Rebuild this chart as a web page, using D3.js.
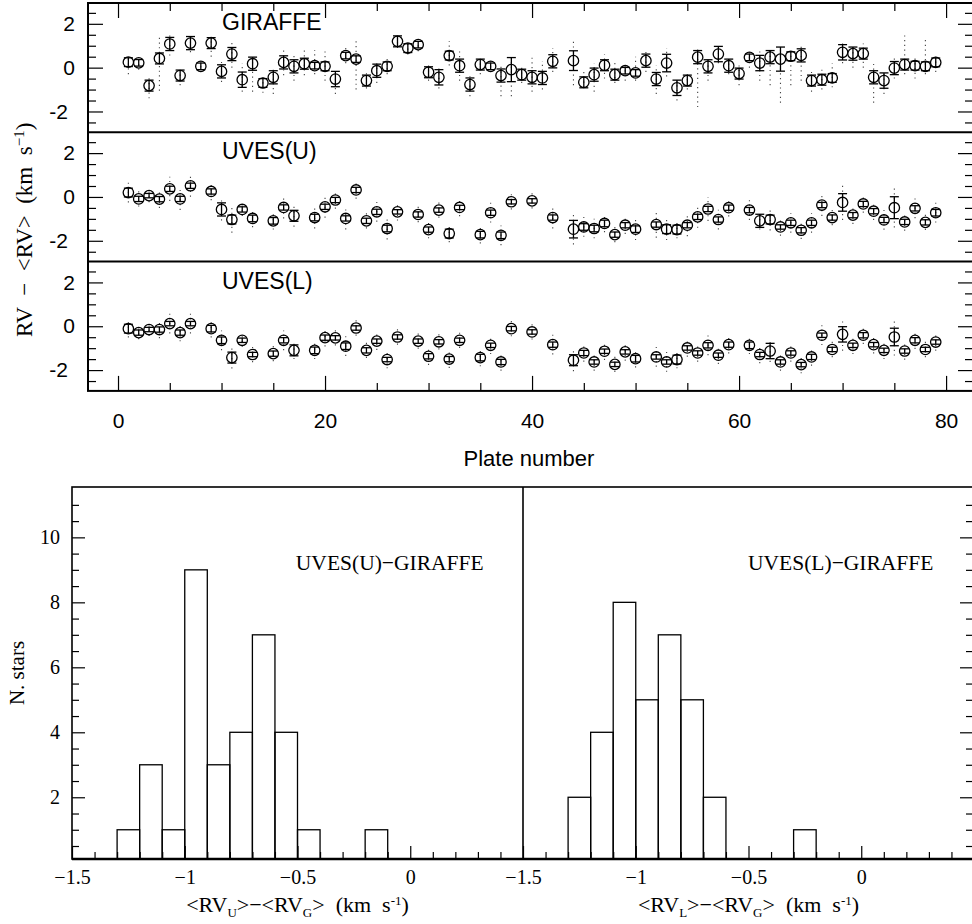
<!DOCTYPE html>
<html>
<head>
<meta charset="utf-8">
<script src="https://cdn.jsdelivr.net/npm/d3@7"></script>
<style>
body { margin: 0; background: #fff; }
svg { display: block; }
.sans { font-family: "Liberation Sans", Arial, sans-serif; }
.serif { font-family: "Liberation Serif", "Times New Roman", serif; }
.axis .domain { display: none; }
.axis line { stroke: #000; stroke-width: 1.2; }
</style>
</head>
<body>
<svg id="chart" width="972" height="924"></svg>
<script>
// Top: RV offsets per plate for GIRAFFE, UVES upper and UVES lower arm
const girPlate = [1,2,3,4,5,6,7,8,9,10,11,12,13,14,15,16,17,18,19,20,21,22,23,24,25,26,27,28,29,30,31,32,33,34,35,36,37,38,39,40,41,42,44,45,46,47,48,49,50,51,52,53,54,55,56,57,58,59,60,61,62,63,64,65,66,67,68,69,70,71,72,73,74,75,76,77,78,79];
const girRV = [0.25,0.22,-0.82,0.42,1.08,-0.36,1.12,0.06,1.12,-0.17,
  0.62,-0.55,0.18,-0.70,-0.44,0.24,0.06,0.18,0.09,0.06,
  -0.52,0.55,0.39,-0.59,-0.14,0.06,1.20,0.89,1.05,-0.21,
  -0.44,0.55,0.09,-0.77,0.14,0.06,-0.36,-0.09,-0.32,-0.44,
  -0.47,0.29,0.32,-0.67,-0.32,0.11,-0.32,-0.14,-0.24,0.32,
  -0.52,0.21,-0.92,-0.59,0.48,0.06,0.62,0.09,-0.27,0.47,
  0.21,0.48,0.39,0.52,0.56,-0.59,-0.55,-0.47,0.70,0.64,
  0.64,-0.44,-0.59,-0.02,0.14,0.09,0.06,0.24];
const girErr = [0.20,0.15,0.25,0.25,0.30,0.25,0.30,0.15,0.25,0.30,
  0.30,0.35,0.30,0.20,0.30,0.30,0.30,0.25,0.15,0.20,
  0.35,0.15,0.15,0.25,0.30,0.20,0.25,0.20,0.15,0.25,
  0.35,0.20,0.30,0.30,0.25,0.15,0.30,0.55,0.25,0.30,
  0.30,0.30,0.45,0.25,0.30,0.25,0.25,0.15,0.15,0.30,
  0.30,0.40,0.35,0.25,0.30,0.30,0.35,0.30,0.25,0.15,
  0.35,0.30,0.55,0.20,0.30,0.25,0.25,0.20,0.35,0.30,
  0.25,0.30,0.35,0.30,0.25,0.20,0.20,0.20];
// range of the single-star values (dotted)
const girLo = [-0.30,-0.10,-1.40,-1.05,0.55,-0.80,0.70,-0.20,0.50,-0.65,
  0.00,-1.10,-1.10,-1.15,-1.20,-0.35,-0.60,-0.35,-0.30,-0.60,
  -1.20,0.20,-1.00,-0.95,-0.70,-0.30,0.90,0.60,0.75,-0.60,
  -0.95,0.10,-0.60,-1.30,-0.30,-0.20,-1.30,-1.30,-0.70,-1.10,
  -1.00,-0.20,-0.80,-0.90,-1.10,-0.50,-0.70,-0.60,-0.60,-0.20,
  -1.20,-0.40,-1.50,-1.00,-1.80,-0.60,0.20,-0.30,-0.80,0.00,
  -0.60,-0.80,-1.60,-0.80,-0.60,-1.10,-1.00,-0.90,0.20,0.00,
  0.00,-1.60,-1.20,-0.50,-0.30,-0.50,-0.30,-0.20];
const girHi = [0.55,0.50,-0.45,1.45,1.60,0.05,1.50,0.30,1.55,0.35,
  1.20,0.20,0.50,-0.40,-0.10,0.85,0.60,0.80,0.80,0.80,
  -0.20,1.00,1.20,-0.20,0.20,0.40,1.55,1.10,1.20,0.20,
  0.00,1.20,0.80,-0.30,0.50,0.30,0.10,0.50,0.10,0.60,
  0.30,0.90,1.30,-0.20,0.20,0.60,0.30,0.20,0.50,0.80,
  0.10,0.90,-0.50,-0.20,0.90,0.30,1.00,0.50,0.10,0.80,
  0.80,0.80,0.90,0.90,1.00,-0.20,-0.10,0.20,1.10,1.00,
  1.10,0.20,-0.20,0.50,1.60,0.50,1.40,0.60];

const uvPlate = [1,2,3,4,5,6,7,9,10,11,12,13,15,16,17,19,20,21,22,23,24,25,26,27,29,30,31,32,33,35,36,37,38,40,42,44,45,46,47,48,49,50,52,53,54,55,56,57,58,59,61,62,63,64,65,66,67,68,69,70,71,72,73,74,75,76,77,78,79];
const uRV = [0.20,-0.09,0.06,-0.10,0.37,-0.09,0.51,
  0.25,-0.57,-1.03,-0.57,-0.98,
  -1.09,-0.48,-0.86,
  -0.94,-0.45,-0.14,-0.98,0.32,-1.09,-0.68,-1.44,-0.68,
  -0.80,-1.49,-0.60,-1.67,-0.48,
  -1.72,-0.72,-1.75,-0.22,
  -0.18,-0.94,
  -1.47,-1.37,-1.44,-1.21,-1.72,-1.29,-1.47,
  -1.26,-1.47,-1.49,-1.29,-0.91,-0.55,-1.03,-0.49,
  -0.60,-1.09,-1.03,-1.37,-1.18,-1.52,-1.18,-0.37,-0.94,-0.25,-0.83,-0.32,-0.65,-1.05,-0.49,-1.14,-0.52,-1.16,-0.72];
const uErr = [0.20,0.12,0.10,0.12,0.12,0.12,0.12,
  0.12,0.30,0.20,0.12,0.15,
  0.15,0.12,0.25,
  0.15,0.12,0.12,0.12,0.12,0.12,0.12,0.15,0.10,
  0.12,0.12,0.10,0.20,0.10,
  0.15,0.12,0.15,0.10,
  0.10,0.12,
  0.40,0.15,0.15,0.15,0.12,0.12,0.15,
  0.12,0.20,0.20,0.12,0.12,0.12,0.12,0.12,
  0.12,0.30,0.20,0.10,0.12,0.12,0.12,0.12,0.12,0.40,0.12,0.12,0.12,0.12,0.50,0.12,0.12,0.12,0.15];
const uScat = [0.45,0.35,0.30,0.40,0.55,0.50,0.50,
  0.40,0.50,0.60,0.30,0.40,
  0.40,0.50,0.50,
  0.50,0.50,0.40,0.50,0.40,0.35,0.45,0.50,0.40,
  0.35,0.40,0.35,0.40,0.40,
  0.40,0.45,0.45,0.35,
  0.35,0.50,
  0.70,0.45,0.45,0.40,0.35,0.40,0.50,
  0.60,0.50,0.40,0.50,0.50,0.55,0.45,0.40,
  0.45,0.40,0.50,0.40,0.45,0.40,0.45,0.50,0.35,0.80,0.40,0.40,0.40,0.45,0.90,0.40,0.45,0.35,0.45];

const lRV = [-0.11,-0.29,-0.15,-0.15,0.12,-0.29,0.12,
  -0.11,-0.64,-1.43,-0.64,-1.29,
  -1.25,-0.64,-1.10,
  -1.10,-0.52,-0.53,-0.91,-0.08,-1.10,-0.68,-1.52,-0.49,
  -0.68,-1.37,-0.71,-1.50,-0.64,
  -1.43,-0.87,-1.63,-0.11,
  -0.26,-0.84,
  -1.55,-1.22,-1.63,-1.14,-1.74,-1.17,-1.48,
  -1.40,-1.63,-1.52,-0.99,-1.22,-0.87,-1.32,-0.84,
  -0.87,-1.29,-1.13,-1.63,-1.22,-1.75,-1.40,-0.41,-1.06,-0.37,-0.87,-0.41,-0.84,-1.10,-0.49,-1.13,-0.64,-1.06,-0.72];
const lErr = [0.20,0.12,0.10,0.12,0.10,0.12,0.10,
  0.15,0.15,0.25,0.10,0.10,
  0.12,0.12,0.25,
  0.15,0.12,0.10,0.15,0.10,0.12,0.10,0.10,0.10,
  0.10,0.12,0.10,0.12,0.10,
  0.15,0.10,0.12,0.10,
  0.10,0.12,
  0.25,0.12,0.10,0.10,0.10,0.10,0.15,
  0.10,0.10,0.20,0.10,0.10,0.12,0.10,0.12,
  0.15,0.10,0.35,0.10,0.10,0.10,0.12,0.10,0.10,0.35,0.10,0.12,0.10,0.10,0.40,0.10,0.12,0.10,0.10];
const lScat = [0.40,0.30,0.30,0.40,0.45,0.40,0.45,
  0.40,0.45,0.50,0.30,0.35,
  0.35,0.45,0.40,
  0.40,0.40,0.35,0.45,0.35,0.35,0.40,0.40,0.35,
  0.35,0.40,0.35,0.40,0.35,
  0.40,0.40,0.40,0.35,
  0.35,0.45,
  0.50,0.40,0.40,0.40,0.35,0.40,0.40,
  0.45,0.45,0.40,0.40,0.40,0.45,0.40,0.40,
  0.40,0.40,0.50,0.40,0.40,0.40,0.40,0.45,0.35,0.75,0.40,0.40,0.40,0.40,0.85,0.40,0.40,0.35,0.40];

// Bottom: histograms of mean differences, bins of 0.1 km/s (left edges)
const binU = [-1.3,-1.2,-1.1,-1.0,-0.9,-0.8,-0.7,-0.6,-0.5,-0.2];
const countU = [1,3,1,9,3,4,7,4,1,1];
const binL = [-1.3,-1.2,-1.1,-1.0,-0.9,-0.8,-0.7,-0.3];
const countL = [2,4,8,5,7,5,2,1];
const binWidth = 0.1;

const topYMajor = [-2, 0, 2];
const topYMinor = [-2.5,-1.5,-1,-0.5,0.5,1,1.5,2.5];
const plateMajor = [0, 20, 40, 60, 80];
const plateMinor = [5,10,15,25,30,35,45,50,55,65,70,75];
const histYMajor = [2, 4, 6, 8, 10];
const histYMinor = [0.5,1,1.5,2.5,3,3.5,4.5,5,5.5,6.5,7,7.5,8.5,9,9.5,10.5,11];
const histXMajor = [-1.5, -1, -0.5, 0];
const histXMinor = [-1.4,-1.3,-1.2,-1.1,-0.9,-0.8,-0.7,-0.6,-0.4,-0.3,-0.2,-0.1,0.1,0.2,0.3,0.4];

const svg = d3.select('#chart');
const RIGHT = 973;

// ---------- top: three stacked panels ----------
const x = d3.scaleLinear().domain([-2.9, 82.6]).range([88, RIGHT]);
const panelTop = [3, 132.3, 261.6];
const panelH = 129.3;

const panels = [
  { name: 'GIRAFFE', plate: girPlate, rv: girRV, err: girErr,
    lo: girLo, hi: girHi },
  { name: 'UVES(U)', plate: uvPlate, rv: uRV, err: uErr,
    lo: uRV.map((v, i) => v - uScat[i]), hi: uRV.map((v, i) => v + uScat[i]) },
  { name: 'UVES(L)', plate: uvPlate, rv: lRV, err: lErr,
    lo: lRV.map((v, i) => v - lScat[i]), hi: lRV.map((v, i) => v + lScat[i]) },
];

panels.forEach((p, k) => {
  const t = panelTop[k];
  const y = d3.scaleLinear().domain([-2.95, 2.95]).range([t + panelH, t]);
  const g = svg.append('g');

  // left axis: labelled majors + minors, ticks pointing inward
  g.append('g').attr('class', 'axis sans').attr('transform', `translate(${x.range()[0]},0)`)
    .call(d3.axisLeft(y).tickValues(topYMajor).tickSize(-15).tickPadding(13).tickFormat(d => String(d)))
    .call(a => a.selectAll('text').attr('font-size', 21).attr('fill', '#000')
      .attr('dx', d => d < 0 ? -7 : 0));
  g.append('g').attr('class', 'axis').attr('transform', `translate(${x.range()[0]},0)`)
    .call(d3.axisLeft(y).tickValues(topYMinor).tickSize(-8).tickFormat(''));
  // right axis
  g.append('g').attr('class', 'axis').attr('transform', `translate(${RIGHT},0)`)
    .call(d3.axisRight(y).tickValues(topYMajor).tickSize(-15).tickFormat(''));
  g.append('g').attr('class', 'axis').attr('transform', `translate(${RIGHT},0)`)
    .call(d3.axisRight(y).tickValues(topYMinor).tickSize(-8).tickFormat(''));

  if (k === 0) {
    g.append('g').attr('class', 'axis').attr('transform', `translate(0,${t})`)
      .call(d3.axisTop(x).tickValues(plateMajor).tickSize(-15).tickFormat(''));
    g.append('g').attr('class', 'axis').attr('transform', `translate(0,${t})`)
      .call(d3.axisTop(x).tickValues(plateMinor).tickSize(-8).tickFormat(''));
  }
  if (k === 2) {
    g.append('g').attr('class', 'axis sans').attr('transform', `translate(0,${t + panelH})`)
      .call(d3.axisBottom(x).tickValues(plateMajor).tickSize(-15).tickPadding(22).tickFormat(d => String(d)))
      .call(a => a.selectAll('text').attr('font-size', 21).attr('fill', '#000'));
    g.append('g').attr('class', 'axis').attr('transform', `translate(0,${t + panelH})`)
      .call(d3.axisBottom(x).tickValues(plateMinor).tickSize(-8).tickFormat(''));
  }

  const pts = p.plate.map((pl, i) => ({ pl, v: p.rv[i], e: p.err[i], lo: p.lo[i], hi: p.hi[i] }));
  const pt = g.append('g').selectAll('g').data(pts).join('g');

  // single-star spread, dotted
  pt.append('line')
    .attr('x1', d => x(d.pl)).attr('x2', d => x(d.pl))
    .attr('y1', d => y(d.lo)).attr('y2', d => y(d.hi))
    .attr('stroke', '#444').attr('stroke-width', 1.1)
    .attr('stroke-dasharray', '1.2,3.5');
  // error bar + caps
  pt.append('line')
    .attr('x1', d => x(d.pl)).attr('x2', d => x(d.pl))
    .attr('y1', d => y(d.v - d.e)).attr('y2', d => y(d.v + d.e))
    .attr('stroke', '#000').attr('stroke-width', 1.3);
  [-1, 1].forEach(s => {
    pt.append('line')
      .attr('x1', d => x(d.pl) - 4.5).attr('x2', d => x(d.pl) + 4.5)
      .attr('y1', d => y(d.v + s * d.e)).attr('y2', d => y(d.v + s * d.e))
      .attr('stroke', '#000').attr('stroke-width', 1.3);
  });
  pt.append('circle')
    .attr('cx', d => x(d.pl)).attr('cy', d => y(d.v)).attr('r', 5.2)
    .attr('fill', 'none').attr('stroke', '#000').attr('stroke-width', 1.3);

  g.append('text').attr('class', 'sans')
    .attr('x', 222).attr('y', t + 27)
    .attr('font-size', 23).text(p.name);
});

// frame of the top block
svg.append('rect').attr('x', 88).attr('y', 3).attr('width', RIGHT - 88).attr('height', 3 * panelH)
  .attr('fill', 'none').attr('stroke', '#000').attr('stroke-width', 2);
panelTop.slice(1).forEach(t => {
  svg.append('line').attr('x1', 88).attr('x2', RIGHT).attr('y1', t).attr('y2', t)
    .attr('stroke', '#000').attr('stroke-width', 2);
});

svg.append('text').attr('class', 'sans').attr('x', 529).attr('y', 466)
  .attr('text-anchor', 'middle').attr('font-size', 22).text('Plate number');

// rotated y title, anchored at its start (bottom) so it runs up from y=337
const ytitle = svg.append('text').attr('class', 'serif')
  .attr('transform', 'translate(32,337) rotate(-90)')
  .attr('text-anchor', 'start').attr('font-size', 23)
  .style('white-space', 'pre');
ytitle.append('tspan').text('RV  −  <RV>  (km  s');
ytitle.append('tspan').attr('dy', -8).attr('font-size', 15).text('−1');
ytitle.append('tspan').attr('dy', 8).text(')');

// ---------- bottom: two histograms ----------
const hTop = 487, hBot = 859;
const yh = d3.scaleLinear().domain([0.1, 11.55]).range([hBot, hTop]);
const xU = d3.scaleLinear().domain([-1.5, 0.5]).range([72, 523]);
const xL = d3.scaleLinear().domain([-1.5, 0.5]).range([523, 974]);
const fmtH = d => (d < 0 ? '−' : '') + Math.abs(d);

function histogram(xs, bins, counts, label, sub) {
  const g = svg.append('g');
  g.append('g').attr('class', 'axis serif').attr('transform', `translate(0,${hBot})`)
    .call(d3.axisBottom(xs).tickValues(histXMajor).tickSize(-13).tickPadding(11).tickFormat(fmtH))
    .call(a => a.selectAll('text').attr('font-size', 20).attr('fill', '#000'));
  g.append('g').attr('class', 'axis').attr('transform', `translate(0,${hBot})`)
    .call(d3.axisBottom(xs).tickValues(histXMinor).tickSize(-7).tickFormat(''));

  g.append('g').selectAll('rect')
    .data(bins.map((b, i) => ({ b, c: counts[i] })))
    .join('rect')
    .attr('x', d => xs(d.b)).attr('width', d => xs(d.b + binWidth) - xs(d.b))
    .attr('y', d => yh(d.c)).attr('height', d => hBot - yh(d.c))
    .attr('fill', 'none').attr('stroke', '#000').attr('stroke-width', 1.3);

  g.append('text').attr('class', 'serif')
    .attr('x', xs(-0.1) + 2).attr('y', 570).attr('text-anchor', 'middle')
    .attr('font-size', 21.5).text(label);

  const [a, b] = xs.range();
  const tt = g.append('text').attr('class', 'serif')
    .attr('x', (a + b) / 2).attr('y', 912).attr('text-anchor', 'middle')
    .attr('font-size', 22).style('white-space', 'pre');
  tt.append('tspan').text('<RV');
  tt.append('tspan').attr('dy', 5).attr('font-size', 13).text(sub);
  tt.append('tspan').attr('dy', -5).text('>−<RV');
  tt.append('tspan').attr('dy', 5).attr('font-size', 13).text('G');
  tt.append('tspan').attr('dy', -5).text('>  (km  s');
  tt.append('tspan').attr('dy', -7).attr('font-size', 13).text('-1');
  tt.append('tspan').attr('dy', 7).text(')');
}

histogram(xU, binU, countU, 'UVES(U)−GIRAFFE', 'U');
histogram(xL, binL, countL, 'UVES(L)−GIRAFFE', 'L');

// y axes: left of left panel, right of right panel
svg.append('g').attr('class', 'axis serif').attr('transform', 'translate(72,0)')
  .call(d3.axisLeft(yh).tickValues(histYMajor).tickSize(-13).tickPadding(12).tickFormat(d => String(d)))
  .call(a => a.selectAll('text').attr('font-size', 20).attr('fill', '#000'));
svg.append('g').attr('class', 'axis').attr('transform', 'translate(72,0)')
  .call(d3.axisLeft(yh).tickValues(histYMinor).tickSize(-7).tickFormat(''));
svg.append('g').attr('class', 'axis').attr('transform', `translate(${RIGHT},0)`)
  .call(d3.axisRight(yh).tickValues(histYMajor).tickSize(-13).tickFormat(''));
svg.append('g').attr('class', 'axis').attr('transform', `translate(${RIGHT},0)`)
  .call(d3.axisRight(yh).tickValues(histYMinor).tickSize(-7).tickFormat(''));

svg.append('rect').attr('x', 72).attr('y', hTop).attr('width', RIGHT - 72).attr('height', hBot - hTop)
  .attr('fill', 'none').attr('stroke', '#000').attr('stroke-width', 1.6);
svg.append('line').attr('x1', 72).attr('x2', RIGHT).attr('y1', hBot).attr('y2', hBot)
  .attr('stroke', '#000').attr('stroke-width', 2.5);
svg.append('line').attr('x1', 523).attr('x2', 523).attr('y1', hTop).attr('y2', hBot)
  .attr('stroke', '#000').attr('stroke-width', 1.6);

svg.append('text').attr('class', 'serif')
  .attr('transform', `translate(24,${(hTop + hBot) / 2}) rotate(-90)`)
  .attr('text-anchor', 'middle').attr('font-size', 21).text('N. stars');
</script>
</body>
</html>
